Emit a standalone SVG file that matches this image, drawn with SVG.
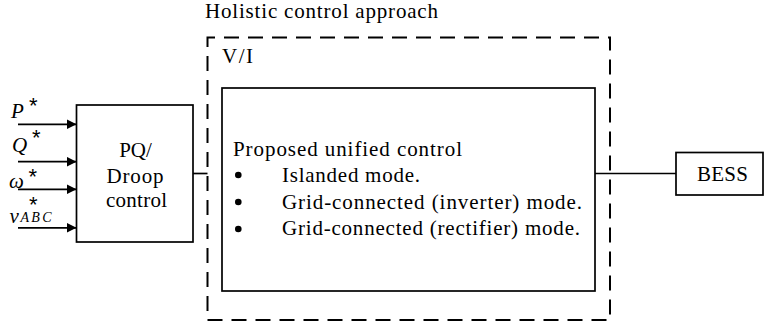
<svg xmlns="http://www.w3.org/2000/svg" width="765" height="325" viewBox="0 0 765 325">
<defs>
<style>
.box{fill:#fff;stroke:#000;stroke-width:1.7}
.dash{fill:none;stroke:#000;stroke-width:2;stroke-dasharray:15 9;stroke-dashoffset:7.5}
.wire{fill:none;stroke:#000;stroke-width:1.7}
</style>
<marker id="ah" markerUnits="userSpaceOnUse" markerWidth="11" markerHeight="10" refX="10" refY="5" orient="auto">
<path d="M0,0 L10,5 L0,10 z" fill="#000"/>
</marker>
</defs>
<g id="holistic">
<text x="205" y="18" font-family="Liberation Serif, serif" font-size="21" textLength="233" lengthAdjust="spacing">Holistic control approach</text>
<path class="dash" d="M207.5,37.5 H610 V320 H207.5 Z"/>
<text x="222" y="63" font-family="Liberation Serif, serif" font-size="21" textLength="31" lengthAdjust="spacing">V/I</text>
</g>
<g id="unified">
<rect class="box" x="222" y="88" width="373" height="203"/>
<text x="233" y="156" font-family="Liberation Serif, serif" font-size="21" textLength="229" lengthAdjust="spacing">Proposed unified control</text>
<circle cx="238.3" cy="175" r="3.3"/>
<circle cx="238.3" cy="202" r="3.3"/>
<circle cx="238.3" cy="229" r="3.3"/>
<text x="282" y="182" font-family="Liberation Serif, serif" font-size="21" textLength="138" lengthAdjust="spacing">Islanded mode.</text>
<text x="282" y="208.5" font-family="Liberation Serif, serif" font-size="21" textLength="300" lengthAdjust="spacing">Grid-connected (inverter) mode.</text>
<text x="282" y="235" font-family="Liberation Serif, serif" font-size="21" textLength="298" lengthAdjust="spacing">Grid-connected (rectifier) mode.</text>
</g>
<g id="pq">
<rect class="box" x="76.5" y="105" width="116.5" height="137"/>
<text x="135.5" y="157" font-family="Liberation Serif, serif" font-size="21" text-anchor="middle">PQ/</text>
<text x="135" y="183" font-family="Liberation Serif, serif" font-size="21" text-anchor="middle" textLength="57" lengthAdjust="spacing">Droop</text>
<text x="136.5" y="207" font-family="Liberation Serif, serif" font-size="21" text-anchor="middle" textLength="61" lengthAdjust="spacing">control</text>
</g>
<g id="bess">
<rect class="box" x="676" y="152.5" width="87" height="42.5"/>
<text x="722.5" y="181" font-family="Liberation Serif, serif" font-size="21" text-anchor="middle" textLength="51" lengthAdjust="spacing">BESS</text>
</g>
<g id="inputs">
<text x="11" y="118" font-family="Liberation Serif, serif" font-size="21" font-style="italic">P</text>
<text x="29" y="112.7" font-family="Liberation Sans, sans-serif" font-size="22">*</text>
<text x="12" y="152" font-family="Liberation Serif, serif" font-size="21" font-style="italic">Q</text>
<text x="32" y="144.7" font-family="Liberation Sans, sans-serif" font-size="22">*</text>
<text x="9" y="188" font-family="Liberation Serif, serif" font-size="21" font-style="italic">ω</text>
<text x="28.5" y="183.7" font-family="Liberation Sans, sans-serif" font-size="22">*</text>
<text x="9.5" y="222.5" font-family="Liberation Serif, serif" font-size="21" font-style="italic">v</text>
<text x="20.5" y="222" font-family="Liberation Serif, serif" font-size="14" font-style="italic" textLength="31" lengthAdjust="spacing">ABC</text>
<text x="29" y="212" font-family="Liberation Sans, sans-serif" font-size="22">*</text>
</g>
<g id="connectors">
<line class="wire" x1="18" y1="124.3" x2="76.5" y2="124.3" marker-end="url(#ah)"/>
<line class="wire" x1="18" y1="161.7" x2="76.5" y2="161.7" marker-end="url(#ah)"/>
<line class="wire" x1="18" y1="189.3" x2="76.5" y2="189.3" marker-end="url(#ah)"/>
<line class="wire" x1="18" y1="227.8" x2="76.5" y2="227.8" marker-end="url(#ah)"/>
<line class="wire" x1="193" y1="173.5" x2="207.5" y2="173.5"/>
<line class="wire" x1="595" y1="173.5" x2="676" y2="173.5"/>
</g>
</svg>
